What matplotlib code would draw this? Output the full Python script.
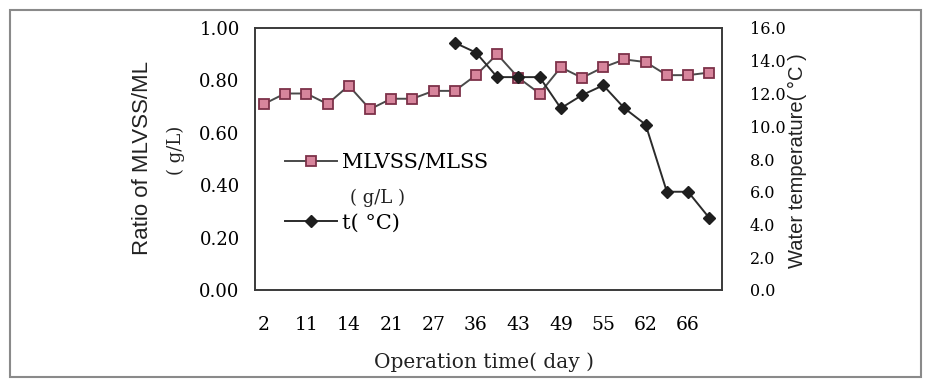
import numpy as np
import matplotlib
matplotlib.use('Agg')
import matplotlib.pyplot as plt
from matplotlib.patches import Rectangle
from matplotlib.transforms import Bbox, TransformedBbox

# Data
days = ['2', '11', '14', '21', '27', '36', '43', '49', '55', '62', '66']
mlvss_ratio = [0.71, 0.75, 0.75, 0.71, 0.78, 0.69, 0.73, 0.73, 0.76, 0.76, 0.82,
               0.90, 0.81, 0.75, 0.85, 0.81, 0.85, 0.88, 0.87, 0.82, 0.82, 0.83]
water_temp = [None] * 9 + [15.1, 14.5, 13.0, 13.0, 13.0, 11.1, 11.9, 12.5, 11.1,
                           10.1, 6.0, 6.0, 4.4]

SERIF = 'DejaVu Serif'
SANS = 'Liberation Sans'
W, H = 926, 379

fig = plt.figure(figsize=(W / 100, H / 100), dpi=100)
ax = fig.add_axes([255 / W, 1 - 290 / H, 467 / W, 262 / H])

x = np.arange(len(mlvss_ratio))
t = np.array(water_temp, dtype=float)

l1, = ax.plot(x, mlvss_ratio, '-s', color='#4a4a4a', lw=1.4, ms=7.5,
              mfc='#d7859c', mec='#7d3149', mew=1.3, zorder=3)
ax.set_xlim(-0.42, 21.6)
ax.set_ylim(0, 1.0)
ax.set_yticks(np.arange(0, 1.01, 0.2))
ax.set_yticklabels(['%.2f' % v for v in np.arange(0, 1.01, 0.2)],
                   fontfamily=SERIF, fontsize=13)
ax.set_xticks(range(0, 22, 2))
ax.set_xticklabels(days, fontfamily=SERIF, fontsize=13.5)
ax.tick_params(axis='y', length=0, pad=11)
ax.tick_params(axis='x', length=0, pad=19)
for s in ax.spines.values():
    s.set_color('#3a3a3a')
    s.set_linewidth(1.4)

ax2 = ax.twinx()
l2, = ax2.plot(x, t, '-D', color='#2b2b2b', lw=1.4, ms=6,
               mfc='#1e1e1e', mec='#1e1e1e', zorder=4)
ax2.set_ylim(0, 16)
ax2.set_yticks(np.arange(0, 16.1, 2))
ax2.set_yticklabels(['%.1f' % v for v in np.arange(0, 16.1, 2)],
                    fontfamily=SERIF, fontsize=11.5)
ax2.tick_params(axis='y', length=0, pad=20)
for s in ax2.spines.values():
    s.set_visible(False)

# axis titles
fig.text(142 / W, 1 - 158 / H, 'Ratio of MLVSS/ML', rotation=90,
         ha='center', va='center', fontfamily=SANS, fontsize=16, color='#222')
fig.text(176 / W, 1 - 150 / H, '( g/L)', rotation=90,
         ha='center', va='center', fontfamily=SERIF, fontsize=13, color='#222')
fig.text(797 / W, 1 - 161 / H, 'Water temperature( °C )', rotation=90,
         ha='center', va='center', fontfamily=SANS, fontsize=14.5, color='#222')
fig.text(484 / W, 1 - 362 / H, 'Operation time( day )',
         ha='center', va='center', fontfamily=SERIF, fontsize=14.5, color='#222')

# legend, first label cut off by its box
leg = ax.legend([l1, l2], ['MLVSS/MLSS', 't( °C)'], loc='upper left',
                bbox_to_anchor=(285 / W, 1 - 153 / H),
                bbox_transform=fig.transFigure, frameon=False,
                prop={'family': SERIF, 'size': 15}, handlelength=2.5,
                handletextpad=0.25, labelspacing=2.0, borderpad=0,
                borderaxespad=0)
clip = TransformedBbox(Bbox([[0, 0], [488 / W, 1]]), fig.transFigure)
leg.get_texts()[0].set_clip_box(clip)
leg.get_texts()[0].set_clip_on(True)
fig.text(350 / W, 1 - 198 / H, '( g/L )', ha='left', va='center',
         fontfamily=SERIF, fontsize=13, color='#222')

# outer frame
fig.patches.append(Rectangle((10 / W, 2 / H), 911 / W, 367 / H, fill=False,
                             edgecolor='#8a8a8a', lw=1.5,
                             transform=fig.transFigure, figure=fig))

fig.savefig('out.png', dpi=100)
